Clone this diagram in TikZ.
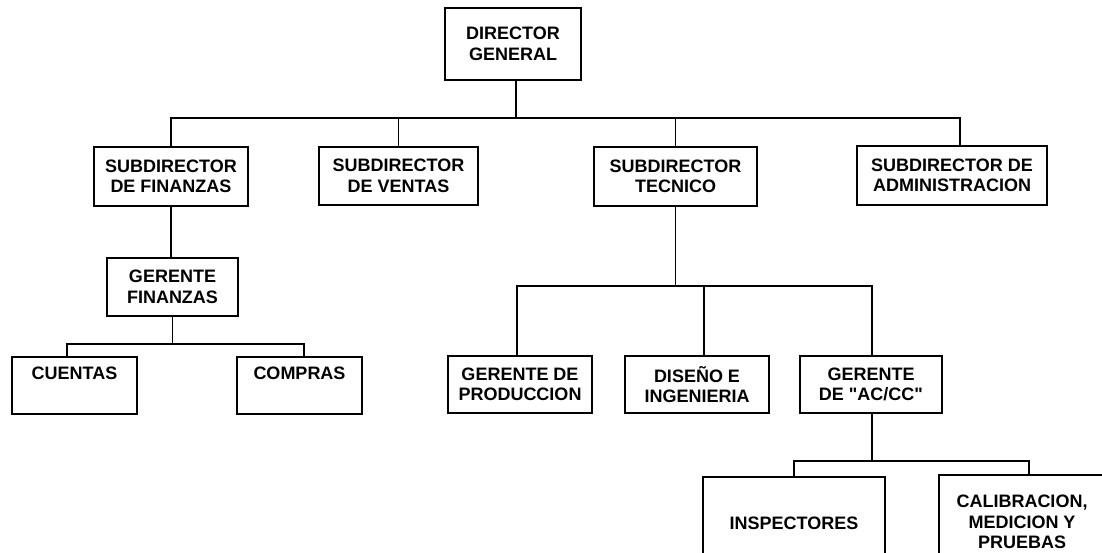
\documentclass[tikz,border=0pt]{standalone}
\usepackage{fontspec}
\setmainfont{Liberation Sans}[Ligatures=TeXOff]
\begin{document}
\begin{tikzpicture}[x=1pt,y=-1pt,
  box/.style={draw, line width=1.8pt, inner sep=0pt, align=center,
    font=\bfseries\fontsize{18}{20.5}\selectfont},
  topbox/.style={box, text height=22pt, text depth=35pt},
  link/.style={line width=1.6pt},
]
\clip (0,0) rectangle (1102,552);
\fill[white] (0,0) rectangle (1102,552);

% top level
\node[box, minimum width=136pt, minimum height=72pt] (dir) at (513,44) {DIRECTOR\\GENERAL};

% subdirectors
\node[box, minimum width=154pt, minimum height=59pt] (sf) at (171,176.5) {SUBDIRECTOR\\DE FINANZAS};
\node[box, minimum width=159pt, minimum height=58pt] (sv) at (398.5,176) {SUBDIRECTOR\\DE VENTAS};
\node[box, minimum width=163pt, minimum height=59pt] (st) at (675.5,176.5) {SUBDIRECTOR\\TECNICO};
\node[box, minimum width=190pt, minimum height=59pt] (sa) at (952,175.5) {SUBDIRECTOR DE\\ADMINISTRACION};

% finance branch
\node[box, minimum width=131pt, minimum height=58pt] (gf) at (172.5,287) {GERENTE\\FINANZAS};
\node[topbox, minimum width=125pt] (cu) at (74.5,385.5) {CUENTAS};
\node[topbox, minimum width=125pt] (co) at (299.5,385.5) {COMPRAS};

% technical branch
\node[box, minimum width=144pt, minimum height=57pt] (gp) at (520,384.5) {GERENTE DE\\PRODUCCION};
\node[box, minimum width=144pt, minimum height=57pt] (di) at (697,384.5) {DISEÑO E\\INGENIERIA};
\node[box, minimum width=142pt, minimum height=57pt] (ac) at (871,384.5) {GERENTE\\DE "AC/CC"};

% quality branch
\node[box, minimum width=182pt, minimum height=92pt] (in) at (794,523) {INSPECTORES};
\node[box, minimum width=166pt, minimum height=94pt] (ca) at (1022,522) {CALIBRACION,\\MEDICION Y\\PRUEBAS};

% connectors
\foreach \t in {sf,sv,st}
  \draw[link] ([xshift=3pt]dir.south) -- ++(0,37) -| (\t.north);
\draw[link] ([xshift=3pt]dir.south) -- ++(0,37) -| ([xshift=8pt]sa.north);

\draw[link] (sf.south) -- (sf.south |- gf.north);
\draw[link] (gf.south) -- ++(0,27) -| ([xshift=-7.5pt]cu.north);
\draw[link] (gf.south) -- ++(0,27) -| ([xshift=4.5pt]co.north);

\draw[link] (st.south) -- ++(0,79) -| ([xshift=-3pt]gp.north);
\draw[link] (st.south) -- ++(0,79) -| ([xshift=7pt]di.north);
\draw[link] (st.south) -- ++(0,79) -| ([xshift=1pt]ac.north);

\draw[link] ([xshift=1pt]ac.south) -- ++(0,47) -| (in.north);
\draw[link] ([xshift=1pt]ac.south) -- ++(0,47) -| ([xshift=7pt]ca.north);
\end{tikzpicture}
\end{document}
